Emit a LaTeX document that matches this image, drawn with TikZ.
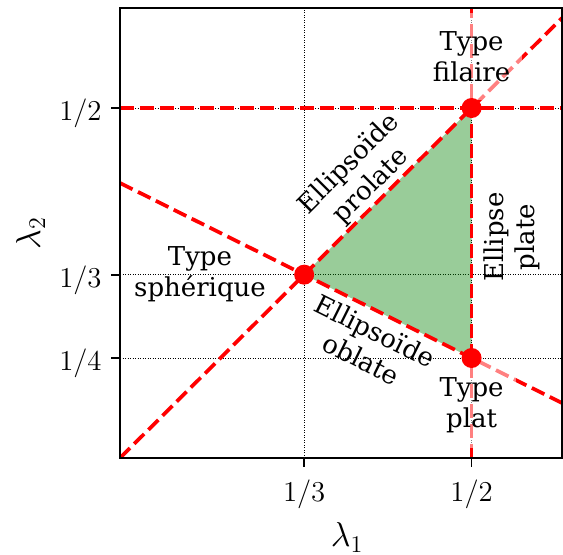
\documentclass[tikz,border=0pt]{standalone}
\usepackage{fontspec}
\newfontfamily\dvserif{DejaVu Serif}
\usepackage{tikz}
\usetikzlibrary{calc}
\definecolor{pltgreen}{HTML}{008000}

\begin{document}
\begin{tikzpicture}[x=502.25pt,y=500pt,
  gridln/.style={line width=.45pt,dash pattern=on .45pt off .8pt},
  redln/.style={red,line width=1.85pt,dash pattern=on 7pt off 3pt},
  frm/.style={line width=.9pt},
  lbl/.style={font=\dvserif\fontsize{13pt}{15.6pt}\selectfont,align=center,inner sep=0pt},
  wbox/.style={fill=white,fill opacity=.5,text opacity=1,inner xsep=6pt,minimum height=43.5pt},
  tk/.style={font=\fontsize{14pt}{16pt}\selectfont,inner sep=0pt},
  axl/.style={font=\fontsize{17.5pt}{20pt}\selectfont,inner sep=0pt}
]
\useasboundingbox (0.0305,0.053) rectangle (0.5910,0.608);
% corners of the triangle
\coordinate (S) at (1/3,1/3);
\coordinate (F) at (1/2,1/2);
\coordinate (P) at (1/2,1/4);
\coordinate (bl) at (0.15,0.15);
\coordinate (tr) at (0.59,0.6);

\begin{scope}
\clip (bl) rectangle (tr);
\foreach \v in {0.25,0.33333,0.5} \draw[gridln] (0.15,\v) -- (0.59,\v);
\foreach \v in {0.33333,0.5} \draw[gridln] (\v,0.15) -- (\v,0.6);
\fill[pltgreen,fill opacity=.4] (S) -- (F) -- (P) -- cycle;
\draw[redln] (bl) -- (S) -- (F) -- (0.59,0.59);
\draw[redln] (0.15,0.425) -- (S) -- (P) -- (0.59,0.205);
\draw[redln] (0.15,0.5) -- (F) -- (0.59,0.5);
\draw[redln] (0.5,0.15) -- (P) -- (F) -- (0.5,0.6);
\end{scope}

% axes
\draw[frm] (bl) rectangle (tr);
\foreach \v/\t in {0.33333/3,0.5/2}{
  \draw[frm] (\v,0.15) -- ++(0,-4.5pt);
  \node[tk,anchor=base] (xt\t) at ($(\v,0.15)+(0,-22pt)$) {$1/\t$};
}
\foreach \v/\t in {0.25/4,0.33333/3,0.5/2}{
  \draw[frm] (0.15,\v) -- ++(-4.5pt,0);
  \node[tk,anchor=base east] (yt\t) at ($(0.15,\v)+(-9pt,-6.5pt)$) {$1/\t$};
}
\node[axl,anchor=base] (xlab) at ($(0.376,0.15)+(0,-44.5pt)$) {$\lambda_1$};
\node[axl,anchor=base,rotate=90] (ylab) at ($(0.15,0.375)+(-40pt,0)$) {$\lambda_2$};

% labels
\node[lbl,wbox] (fil) at (0.5,0.5515) {Type\\filaire};
\node[lbl,wbox] (plat) at (0.5,0.203) {Type\\plat};
\node[lbl] (sph) at (0.2296,0.334) {Type\\sphérique};
\node[lbl,rotate=90] (epl) at (0.540,0.371) {Ellipse\\plate};
\node[lbl,rotate=45] (pro) at (0.389,0.433) {Ellipsoïde\\prolate};
\node[lbl,rotate=-26.5] (obl) at (0.397,0.263) {Ellipsoïde\\oblate};

\foreach \c in {S,F,P} \fill[red] (\c) circle (5pt);
\end{tikzpicture}
\end{document}
